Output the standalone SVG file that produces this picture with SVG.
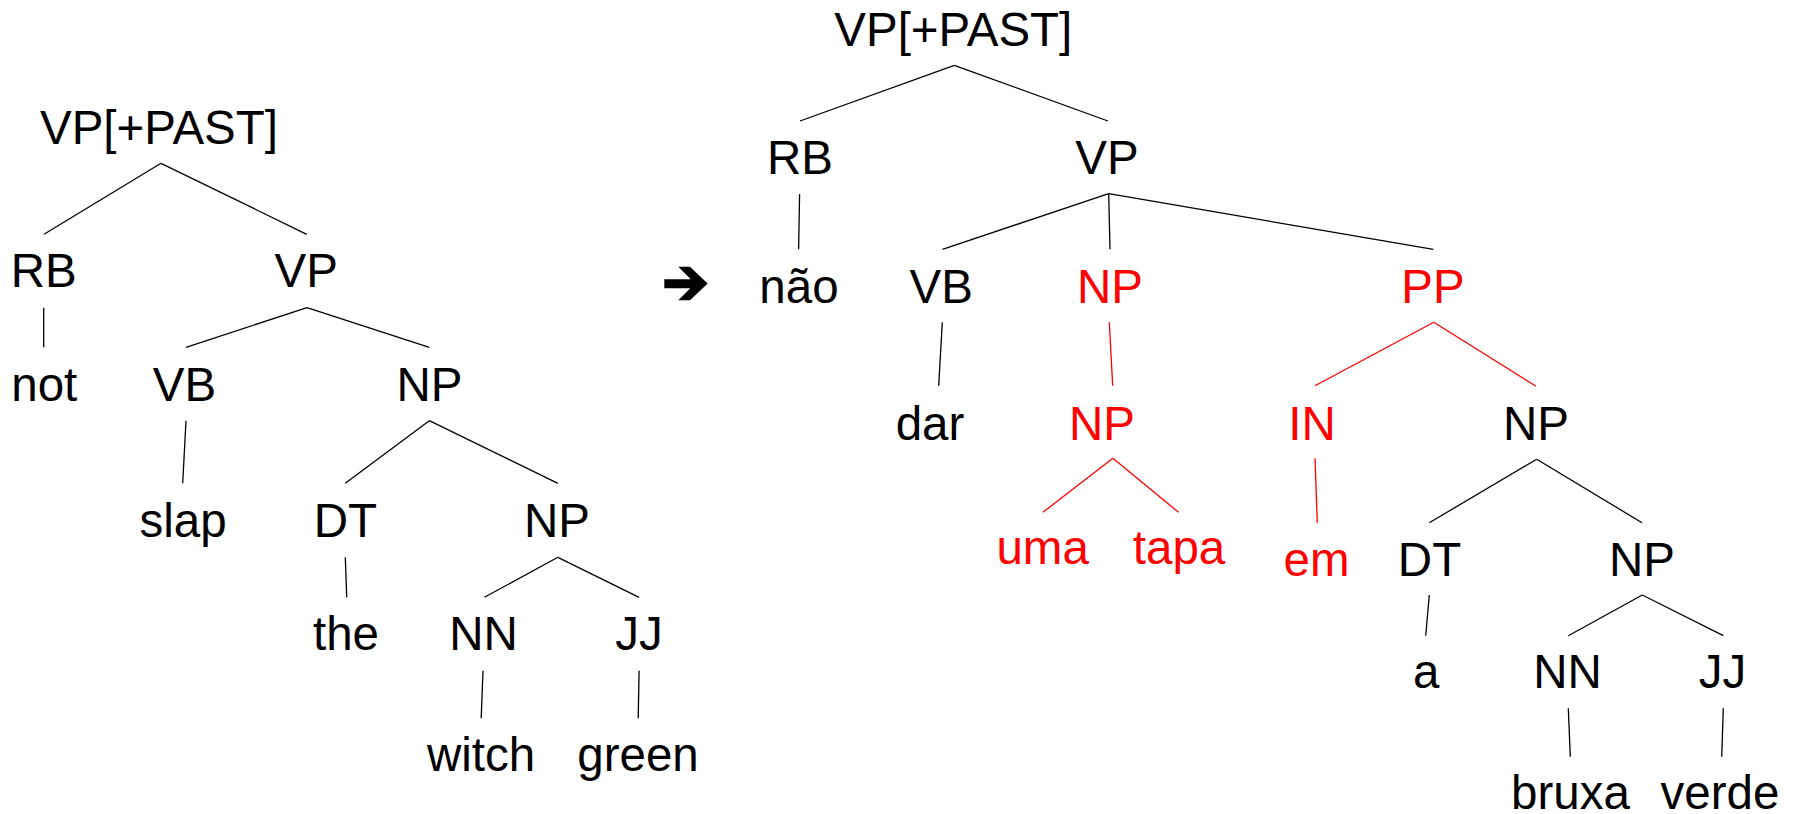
<svg xmlns="http://www.w3.org/2000/svg" width="1795" height="814" viewBox="0 0 1795 814">
  <style>
    .lbl { font-family: "Liberation Sans", Arial, sans-serif; font-size: 47.5px; text-anchor: middle; fill: #000; }
    .red { fill: #ff0000; }
    .edge { stroke: #000; stroke-width: 1.3; fill: none; stroke-linecap: butt; }
    .edge.r { stroke: #ff0000; }
  </style>
  <rect width="1795" height="814" fill="#fff"/>

  <!-- tree connectors -->
  <g id="connectors">
    <!-- English tree -->
    <line class="edge" x1="161" y1="163.3" x2="44" y2="234.3"/>
    <line class="edge" x1="161" y1="163.3" x2="306.7" y2="234.3"/>
    <line class="edge" x1="43.7" y1="307.7" x2="43.7" y2="347.3"/>
    <line class="edge" x1="307" y1="307.7" x2="186" y2="347.3"/>
    <line class="edge" x1="307" y1="307.7" x2="429.3" y2="347.3"/>
    <line class="edge" x1="186" y1="420.7" x2="182.7" y2="483.3"/>
    <line class="edge" x1="429.3" y1="420.7" x2="345.3" y2="483.3"/>
    <line class="edge" x1="429.3" y1="420.7" x2="557.9" y2="483.3"/>
    <line class="edge" x1="345.3" y1="557.3" x2="346.7" y2="597.3"/>
    <line class="edge" x1="557.9" y1="557.3" x2="484.4" y2="597.3"/>
    <line class="edge" x1="557.9" y1="557.3" x2="639.1" y2="597.3"/>
    <line class="edge" x1="483" y1="670.7" x2="481.2" y2="718.3"/>
    <line class="edge" x1="639.1" y1="670.7" x2="638.2" y2="718.3"/>
    <!-- Portuguese tree -->
    <line class="edge" x1="954.3" y1="65.3" x2="800" y2="121"/>
    <line class="edge" x1="954.3" y1="65.3" x2="1107.9" y2="121"/>
    <line class="edge" x1="799.6" y1="194" x2="798.6" y2="249.3"/>
    <line class="edge" x1="1108.7" y1="193.7" x2="942.5" y2="249.3"/>
    <line class="edge" x1="1108.7" y1="193.7" x2="1110" y2="249.3"/>
    <line class="edge" x1="1108.7" y1="193.7" x2="1433.3" y2="249.3"/>
    <line class="edge" x1="942.3" y1="322.3" x2="938.7" y2="385.7"/>
    <line class="edge r" x1="1109.3" y1="322.3" x2="1112.7" y2="385.7"/>
    <line class="edge r" x1="1433.8" y1="322.3" x2="1315" y2="385.7"/>
    <line class="edge r" x1="1433.8" y1="322.3" x2="1536" y2="386.3"/>
    <line class="edge r" x1="1112.9" y1="458.3" x2="1042.9" y2="512.3"/>
    <line class="edge r" x1="1112.9" y1="458.3" x2="1178.6" y2="512.3"/>
    <line class="edge r" x1="1315" y1="458.3" x2="1317.3" y2="522.7"/>
    <line class="edge" x1="1536.7" y1="459.3" x2="1429.3" y2="522.7"/>
    <line class="edge" x1="1536.7" y1="459.3" x2="1642" y2="522.7"/>
    <line class="edge" x1="1429.3" y1="595" x2="1425.7" y2="635.7"/>
    <line class="edge" x1="1642.3" y1="595" x2="1568.3" y2="635.7"/>
    <line class="edge" x1="1642.3" y1="595" x2="1723.3" y2="635.7"/>
    <line class="edge" x1="1568.3" y1="708.3" x2="1570.3" y2="756.7"/>
    <line class="edge" x1="1723.3" y1="708.3" x2="1721.7" y2="756.7"/>
  </g>

  <!-- English tree nodes -->
  <g id="en-vp-past"><text class="lbl" x="159" y="144">VP[+PAST]</text></g>
  <g id="en-rb"><text class="lbl" x="43.8" y="287.3">RB</text></g>
  <g id="en-vp"><text class="lbl" x="306.3" y="287.3">VP</text></g>
  <g id="en-not"><text class="lbl" x="44.3" y="400.7">not</text></g>
  <g id="en-vb"><text class="lbl" x="184.5" y="400.7">VB</text></g>
  <g id="en-np"><text class="lbl" x="429.5" y="400.7">NP</text></g>
  <g id="en-slap"><text class="lbl" x="183" y="536.7">slap</text></g>
  <g id="en-dt"><text class="lbl" x="345.3" y="536.7">DT</text></g>
  <g id="en-np2"><text class="lbl" x="557" y="536.7">NP</text></g>
  <g id="en-the"><text class="lbl" x="346" y="650">the</text></g>
  <g id="en-nn"><text class="lbl" x="483.5" y="650">NN</text></g>
  <g id="en-jj"><text class="lbl" x="639" y="650">JJ</text></g>
  <g id="en-witch"><text class="lbl" x="481" y="770.7">witch</text></g>
  <g id="en-green"><text class="lbl" x="638" y="770.7">green</text></g>

  <!-- heavy right arrow between the two trees -->
  <g id="arrow">
    <polygon fill="#000" points="664.3,279.3 690.8,279.3 678.3,266.7 690,266.7 707.7,283.5 690,300.3 678.3,300.3 690.2,288.3 664.3,288.3"/>
  </g>

  <!-- Portuguese tree nodes -->
  <g id="pt-vp-past"><text class="lbl" x="953.3" y="46">VP[+PAST]</text></g>
  <g id="pt-rb"><text class="lbl" x="800" y="174">RB</text></g>
  <g id="pt-vp"><text class="lbl" x="1107" y="174">VP</text></g>
  <g id="pt-nao"><text class="lbl" x="799" y="303.3">não</text></g>
  <g id="pt-vb"><text class="lbl" x="941.3" y="303.3">VB</text></g>
  <g id="pt-np"><text class="lbl red" x="1110" y="303.3">NP</text></g>
  <g id="pt-pp"><text class="lbl red" x="1433" y="303.3">PP</text></g>
  <g id="pt-dar"><text class="lbl" x="930" y="440">dar</text></g>
  <g id="pt-np-inner"><text class="lbl red" x="1102" y="440">NP</text></g>
  <g id="pt-in"><text class="lbl red" x="1312" y="440">IN</text></g>
  <g id="pt-np-obj"><text class="lbl" x="1536" y="439.5">NP</text></g>
  <g id="pt-uma"><text class="lbl red" x="1042.6" y="564.3">uma</text></g>
  <g id="pt-tapa"><text class="lbl red" x="1179" y="564.3">tapa</text></g>
  <g id="pt-em"><text class="lbl red" x="1316.5" y="576.3">em</text></g>
  <g id="pt-dt"><text class="lbl" x="1429.5" y="576">DT</text></g>
  <g id="pt-np-noun"><text class="lbl" x="1642" y="576">NP</text></g>
  <g id="pt-a"><text class="lbl" x="1426.3" y="688.3">a</text></g>
  <g id="pt-nn"><text class="lbl" x="1567.5" y="688.3">NN</text></g>
  <g id="pt-jj"><text class="lbl" x="1722.5" y="688.3">JJ</text></g>
  <g id="pt-bruxa"><text class="lbl" x="1570.5" y="809.3">bruxa</text></g>
  <g id="pt-verde"><text class="lbl" x="1720" y="809.3">verde</text></g>
</svg>
